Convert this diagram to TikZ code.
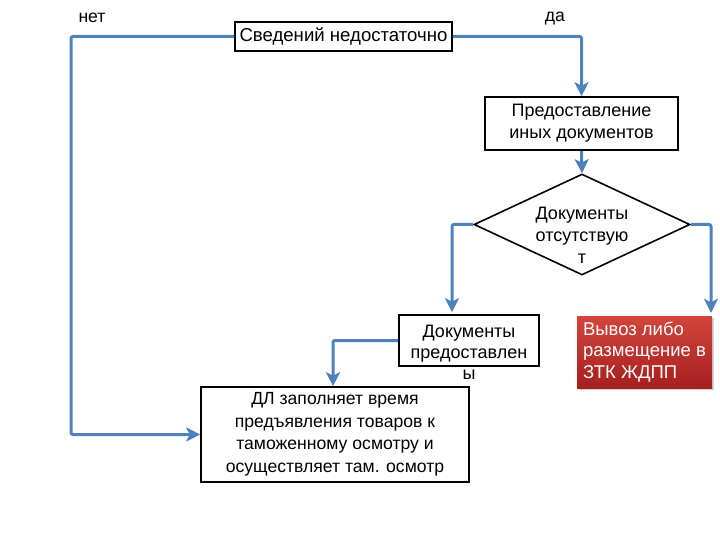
\documentclass[tikz,border=0pt]{standalone}
\usepackage{fontspec}
\setmainfont{Liberation Sans}
\usetikzlibrary{arrows.meta,shapes.geometric,shadows}
\definecolor{flow}{HTML}{4F81BD}
\definecolor{redtop}{HTML}{D2453B}
\definecolor{redbot}{HTML}{A61F1F}
\begin{document}
\begin{tikzpicture}[x=1pt,y=-1pt,
  box/.style={draw=black, line width=1.6pt, fill=white, inner sep=0pt, font=\fontsize{17.6}{22.5}\selectfont, align=center},
  txt/.style={font=\fontsize{17.6}{21}\selectfont, align=center, inner sep=0pt},
  conn/.style={draw=flow, line width=3pt, rounded corners=2pt, -{Stealth[length=14pt,width=14pt,inset=3.5pt]}},
  lbl/.style={font=\fontsize{17.6}{20}\selectfont, inner sep=0pt}]
\useasboundingbox[fill=white] (0,0) rectangle (720,540);
% nodes
\node[box, minimum width=217pt, minimum height=29pt, font=\fontsize{18.6}{22.5}\selectfont] (s) at (343.5,36.5) {Сведений недостаточно};
\node[box, minimum width=193pt, minimum height=53pt, font=\fontsize{18}{22}\selectfont] (p) at (581.5,123.5) {Предоставление\\иных документов};
\node[draw=black, line width=1.6pt, fill=white, shape=diamond, minimum width=216pt, minimum height=101pt, inner sep=0pt] (d) at (582,224.5) {};
\node[txt, font=\fontsize{18}{22}\selectfont] (dt) at (582,235) {Документы\\отсутствую\\т};
\node[box, minimum width=140pt, minimum height=51pt] (dp) at (469,340.5) {};
\node[txt, font=\fontsize{18}{21}\selectfont] (dpt) at (469,352.5) {Документы\\предоставлен\\ы};
\node[fill=redbot, top color=redtop, bottom color=redbot, draw=none, minimum width=135pt, minimum height=72pt,
      inner sep=0pt, align=left, text=white,
      font=\fontsize{18.5}{21.5}\selectfont,
      drop shadow={shadow xshift=1.5pt, shadow yshift=-1.5pt, opacity=0.35}] (r) at (644.5,352) {Вывоз либо\\размещение в\\ЗТК ЖДПП};
\node[box, minimum width=268pt, minimum height=95pt] (big) at (335,434.5) {ДЛ заполняет время\\предъявления товаров к\\таможенному осмотру и\\осуществляет там. осмотр};
\node[lbl] (no) at (92,18) {нет};
\node[lbl] (yes) at (555,19) {да};
% connector corner points
\coordinate (nL) at (71,36.5);
\coordinate (nR) at (581.5,36.5);
\coordinate (dL) at (452,224.5);
\coordinate (dR) at (711,224.5);
\coordinate (dpL) at (333,340.5);
% connectors
\draw[conn] (s.west) -- (nL) |- (big.west);
\draw[conn] (s.east) -- (nR) -- (p.north);
\draw[conn] (p.south) -- (d.north);
\draw[conn] (d.west) -- (dL) -- ([yshift=2pt]dL |- dp.north);
\draw[conn] (d.east) -- (dR) -- ([yshift=3pt]dR |- r.north);
\draw[conn] (dp.west) -- (dpL) -- (dpL |- big.north);
\end{tikzpicture}
\end{document}
